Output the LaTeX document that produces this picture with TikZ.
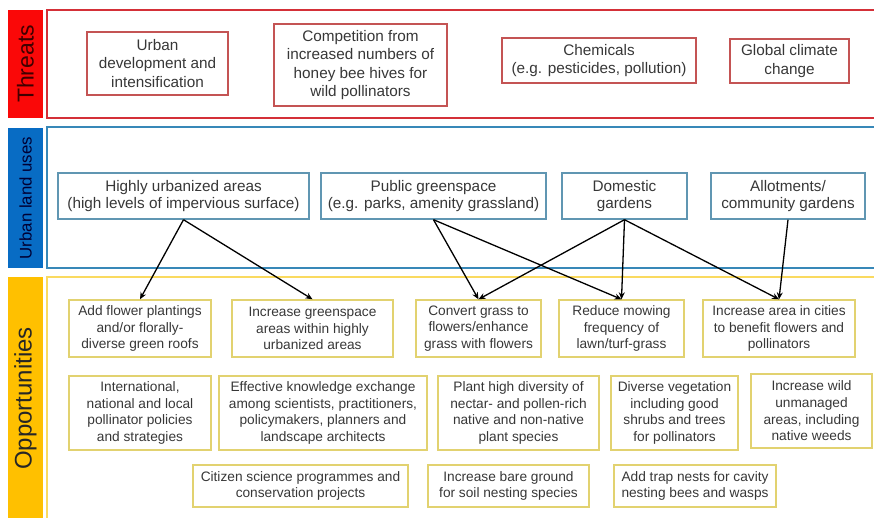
\documentclass[tikz,border=0pt]{standalone}
\usepackage{fontspec}
\setmainfont{Liberation Sans}
\usetikzlibrary{arrows.meta}

\definecolor{threatfill}{RGB}{250,8,8}
\definecolor{threatedge}{RGB}{212,48,56}
\definecolor{threatline}{RGB}{196,84,84}
\definecolor{landfill}{RGB}{8,108,196}
\definecolor{landedge}{RGB}{56,136,184}
\definecolor{landline}{RGB}{96,150,178}
\definecolor{oppfill}{RGB}{255,192,0}
\definecolor{oppedge}{RGB}{250,218,96}
\definecolor{oppline}{RGB}{226,210,112}
\definecolor{textgray}{RGB}{55,55,55}

\tikzset{
  box/.style={draw, line width=1.4pt, align=center, inner sep=0pt, text=textgray},
  threat/.style={box, draw=threatline, font=\fontsize{15.3}{18.6}\selectfont},
  landuse/.style={box, draw=landline, font=\fontsize{15.3}{17.2}\selectfont},
  opport/.style={box, draw=oppline, font=\fontsize{13.7}{16.7}\selectfont},
  link/.style={line width=1.3pt, -{Stealth[length=7pt,width=6pt]}},
  sidelabel/.style={rotate=90, inner sep=0pt}
}

\begin{document}
\begin{tikzpicture}[x=1pt,y=-1pt]
\useasboundingbox (0,0) rectangle (874,517);
\clip (0,0) rectangle (874,517);

% -----------------------------
% Panels and side labels
% -----------------------------
\fill[threatfill] (8,10) rectangle (43,118);
\fill[landfill] (8,128) rectangle (43,268);
\fill[oppfill] (8,277) rectangle (43,540);
\draw[threatedge, line width=2.5pt] (47,10) rectangle (900,118);   % threats panel
\draw[landedge, line width=2.5pt] (47,127) rectangle (900,268);    % land use panel
\draw[oppedge, line width=2.5pt] (47,277) rectangle (900,540);     % opportunities panel

\node[sidelabel, font=\fontsize{23}{23}\selectfont, text=black!75!red] (lblthreat) at (25.5,64) {Threats};
\node[sidelabel, font=\fontsize{16.8}{16.8}\selectfont, text=black!80!blue] (lblland) at (25.5,198) {Urban land uses};
\node[sidelabel, font=\fontsize{24}{24}\selectfont, text=black!85] (lblopp) at (25.5,398.5) {Opportunities};

% -----------------------------
% Threats
% -----------------------------
\node[threat, minimum width=141, minimum height=63] (dev) at (157.5,63.5) {Urban\\development and\\intensification};
\node[threat, minimum width=173, minimum height=82] (hives) at (360.5,65) {Competition from\\increased numbers of\\honey bee hives for\\wild pollinators};
\node[threat, minimum width=194, minimum height=45] (chem) at (599,60.5) {Chemicals\\(e.g. pesticides, pollution)};
\node[threat, minimum width=119, minimum height=44] (climate) at (789.5,61) {Global climate\\change};

% -----------------------------
% Urban land uses
% -----------------------------
\node[landuse, minimum width=251, minimum height=46] (urban) at (183.5,196) {Highly urbanized areas\\(high levels of impervious surface)};
\node[landuse, minimum width=225, minimum height=46] (green) at (433.5,196) {Public greenspace\\(e.g. parks, amenity grassland)};
\node[landuse, minimum width=125, minimum height=46] (domestic) at (624.5,196) {Domestic\\gardens};
\node[landuse, minimum width=154, minimum height=46] (allot) at (788,196) {Allotments/\\community gardens};

% -----------------------------
% Opportunities, first row
% -----------------------------
\node[opport, minimum width=142, minimum height=57] (roofs) at (140,328.5) {Add flower plantings\\and/or florally-\\diverse green roofs};
\node[opport, minimum width=161, minimum height=57] (morearea) at (312.5,328.5) {Increase greenspace\\areas within highly\\urbanized areas};
\node[opport, minimum width=125, minimum height=57] (convert) at (478.5,328.5) {Convert grass to\\flowers/enhance\\grass with flowers};
\node[opport, minimum width=125, minimum height=57] (mowing) at (621.5,328.5) {Reduce mowing\\frequency of\\lawn/turf-grass};
\node[opport, minimum width=152, minimum height=57] (cities) at (779,328.5) {Increase area in cities\\to benefit flowers and\\pollinators};

% second row
\node[opport, minimum width=142, minimum height=74] (policy) at (140,413) {International,\\national and local\\pollinator policies\\and strategies};
\node[opport, minimum width=208, minimum height=74] (knowledge) at (323,413) {Effective knowledge exchange\\among scientists, practitioners,\\policymakers, planners and\\landscape architects};
\node[opport, minimum width=161, minimum height=74] (diversity) at (518.5,413) {Plant high diversity of\\nectar- and pollen-rich\\native and non-native\\plant species};
\node[opport, minimum width=127, minimum height=74] (shrubs) at (674.5,413) {Diverse vegetation\\including good\\shrubs and trees\\for pollinators};
\node[opport, minimum width=121, minimum height=74] (wild) at (811.5,411) {Increase wild\\unmanaged\\areas, including\\native weeds};

% third row
\node[opport, minimum width=215, minimum height=42] (citizen) at (300.5,486) {Citizen science programmes and\\conservation projects};
\node[opport, minimum width=161, minimum height=42] (bare) at (508.5,486) {Increase bare ground\\for soil nesting species};
\node[opport, minimum width=162, minimum height=42] (nests) at (695,486) {Add trap nests for cavity\\nesting bees and wasps};

% -----------------------------
% Links from land uses to opportunities
% -----------------------------
\draw[link] (urban.south) -- (roofs.north);
\draw[link] (urban.south) -- (morearea.north);
\draw[link] (green.south) -- (convert.north);
\draw[link] (green.south) -- (mowing.north);
\draw[link] (domestic.south) -- (convert.north);
\draw[link] (domestic.south) -- (mowing.north);
\draw[link] (domestic.south) -- (cities.north);
\draw[link] (allot.south) -- (cities.north);

\end{tikzpicture}
\end{document}
